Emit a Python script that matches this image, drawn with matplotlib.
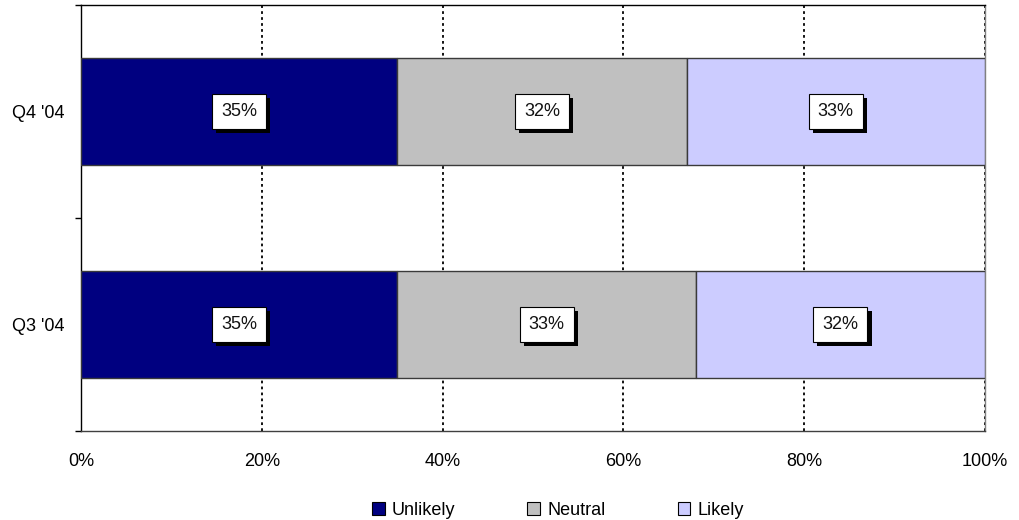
import matplotlib
matplotlib.use("Agg")
import matplotlib.pyplot as plt
import matplotlib.patheffects as pe
from matplotlib.patches import Patch
from matplotlib.ticker import FixedLocator

plt.rcParams['font.family'] = ['Liberation Sans', 'DejaVu Sans']

# Survey results per quarter (share of respondents, %)
quarters = ["Q3 '04", "Q4 '04"]
series_names = ["Unlikely", "Neutral", "Likely"]
unlikely = [35, 35]
neutral = [33, 32]
likely = [32, 33]
colors = ["#000080", "#C0C0C0", "#CCCCFF"]
x_ticks = [0, 20, 40, 60, 80, 100]
x_tick_labels = ["0%", "20%", "40%", "60%", "80%", "100%"]

FS = 13

fig = plt.figure(figsize=(10.2, 5.2), dpi=100)
ax = fig.add_axes([81 / 1020, 1 - 431 / 520, (985 - 81) / 1020, (431 - 5) / 520])

ypos = list(range(len(quarters)))
left = [0] * len(quarters)
for name, vals, col in zip(series_names, [unlikely, neutral, likely], colors):
    ax.barh(ypos, vals, left=left, height=0.5, color=col,
            edgecolor="#3a3a3a", linewidth=1.0, zorder=3, label=name)
    for y, v, l in zip(ypos, vals, left):
        t = ax.text(l + v / 2, y, f"{v}%", ha="center", va="center",
                    fontsize=FS, color="#111111", zorder=5,
                    bbox=dict(boxstyle="square,pad=0.5", facecolor="white",
                              edgecolor="black", linewidth=0.8))
        t.get_bbox_patch().set_path_effects([
            pe.SimplePatchShadow(offset=(3, -3), shadow_rgbFace="black", alpha=1.0),
            pe.Normal()])
    left = [a + b for a, b in zip(left, vals)]

ax.set_xlim(0, 100)
ax.set_ylim(-0.5, len(quarters) - 0.5)

# dotted vertical gridlines
for xv in x_ticks[1:]:
    ax.axvline(xv, color="black", linestyle=(0, (1.5, 1.8)), linewidth=1.3, zorder=1)

ax.xaxis.set_major_locator(FixedLocator(x_ticks))
ax.set_xticklabels(x_tick_labels, fontsize=FS)
ax.tick_params(axis="x", length=0, pad=16)

ax.yaxis.set_major_locator(FixedLocator(ypos))
ax.set_yticklabels(quarters, fontsize=FS)
ax.yaxis.set_minor_locator(FixedLocator([-0.5, 0.5, 1.5]))
ax.tick_params(axis="y", which="major", length=0, pad=12)
ax.tick_params(axis="y", which="minor", length=4.5, width=1, color="black", direction="out")

ax.spines["left"].set_color("black")
ax.spines["top"].set_color("black")
ax.spines["bottom"].set_color("#404040")
ax.spines["right"].set_color("#808080")
for s in ax.spines.values():
    s.set_linewidth(1.0)

handles = [Patch(facecolor=c, edgecolor="black", linewidth=0.8, label=n)
           for n, c in zip(series_names, colors)]
fig.legend(handles=handles, loc="center", bbox_to_anchor=(0.547, 0.019),
           ncol=3, frameon=False, fontsize=FS, handlelength=0.7, handleheight=0.7,
           handletextpad=0.4, columnspacing=4.0, borderpad=0.1)

fig.savefig("out.png", dpi=100)
